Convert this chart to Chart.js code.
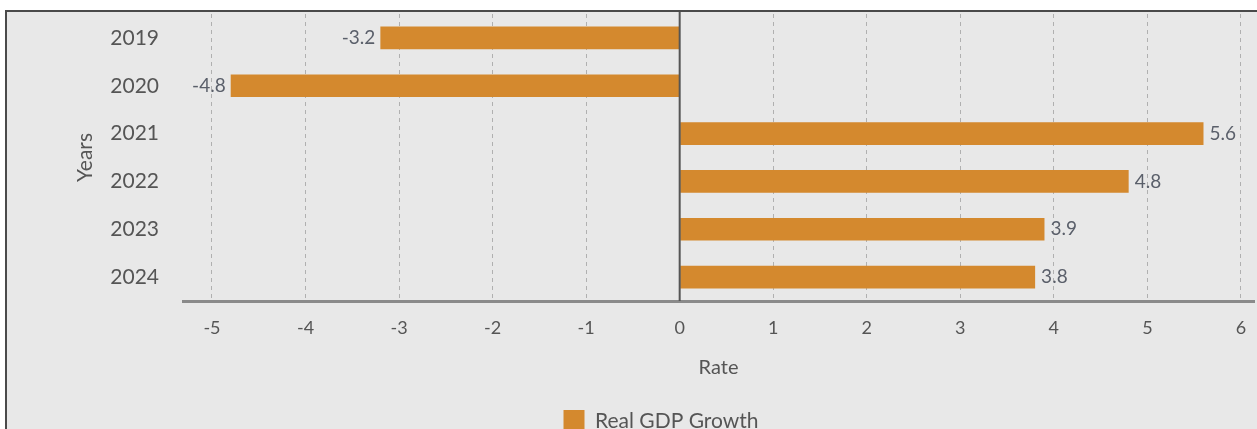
<!DOCTYPE html>
<html>
<head>
<meta charset="utf-8">
<script src="https://cdn.jsdelivr.net/npm/chart.js@4.4.1/dist/chart.umd.min.js"></script>
<style>
  html, body { margin: 0; padding: 0; background: #ffffff; }
  #frame {
    position: absolute; left: 5px; top: 10px;
    width: 1250px; height: 417px;
    border-left: 2px solid #4a4a4a; border-top: 2px solid #4a4a4a;
    background: #e8e8e8; overflow: hidden;
  }
  canvas { display: block; }
</style>
</head>
<body>
<div id="frame"><canvas id="c" width="1250" height="430"></canvas></div>
<script>
const years = ["2019", "2020", "2021", "2022", "2023", "2024"];
const growth = [-3.2, -4.8, 5.6, 4.8, 3.9, 3.8];
const xTicks = [-5, -4, -3, -2, -1, 0, 1, 2, 3, 4, 5, 6];
const seriesName = "Real GDP Growth";
const axisTitleX = "Rate";
const axisTitleY = "Years";

const FONT = "Lato, 'Open Sans', sans-serif";
const TXT = "#555555";

const valueLabels = {
  id: 'valueLabels',
  afterDatasetsDraw(chart) {
    const ctx = chart.ctx;
    const meta = chart.getDatasetMeta(0);
    ctx.save();
    ctx.font = "19px " + FONT;
    ctx.fillStyle = "#5a5f6a";
    ctx.textBaseline = 'middle';
    meta.data.forEach((bar, i) => {
      const v = growth[i];
      if (v < 0) { ctx.textAlign = 'right'; ctx.fillText(String(v), bar.x - 5, bar.y); }
      else { ctx.textAlign = 'left'; ctx.fillText(String(v), bar.x + 6, bar.y); }
    });
    ctx.restore();
  }
};

const zeroLine = {
  id: 'zeroLine',
  afterDatasetsDraw(chart) {
    const ctx = chart.ctx, x = chart.scales.x, a = chart.chartArea;
    const px = x.getPixelForValue(0);
    ctx.save();
    ctx.strokeStyle = '#555555';
    ctx.lineWidth = 2;
    ctx.beginPath(); ctx.moveTo(px, 0); ctx.lineTo(px, a.bottom); ctx.stroke();
    ctx.restore();
  }
};

new Chart(document.getElementById('c'), {
  type: 'bar',
  data: {
    labels: years,
    datasets: [{
      label: seriesName,
      data: growth,
      backgroundColor: '#d4892e',
      borderWidth: 0,
      barPercentage: 0.95,
      categoryPercentage: 0.5
    }]
  },
  options: {
    indexAxis: 'y',
    responsive: false,
    animation: false,
    layout: { padding: { left: 61, right: 3, top: 2, bottom: 0 } },
    plugins: {
      legend: {
        position: 'bottom',
        labels: {
          font: { family: FONT, size: 21 },
          color: TXT,
          boxWidth: 21, boxHeight: 22,
          padding: 10
        }
      },
      tooltip: { enabled: false }
    },
    scales: {
      x: {
        min: -5.31, max: 6.14,
        afterBuildTicks(scale) { scale.ticks = xTicks.map(v => ({ value: v })); },
        afterFit(scale) { scale.height = 99; scale.paddingLeft = 0; scale.paddingRight = 0; },
        ticks: { font: { family: FONT, size: 18 }, color: TXT, padding: 16 },
        grid: { color: '#b0b0b0', lineWidth: 1, drawTicks: false },
        border: { display: true, color: '#8a8a8a', width: 3, dash: [4, 4] },
        title: { display: true, text: axisTitleX, font: { family: FONT, size: 20 }, color: TXT, padding: { top: 4, bottom: 20 } }
      },
      y: {
        afterFit(scale) { scale.width = 115; scale.paddingTop = 0; scale.paddingBottom = 0; },
        ticks: { font: { family: FONT, size: 21 }, color: TXT, padding: 24 },
        grid: { display: false, drawTicks: false },
        border: { display: false },
        title: { display: true, text: axisTitleY, font: { family: FONT, size: 21 }, color: TXT, padding: { top: 5, bottom: 0 } }
      }
    }
  },
  plugins: [valueLabels, zeroLine]
});
</script>
</body>
</html>
